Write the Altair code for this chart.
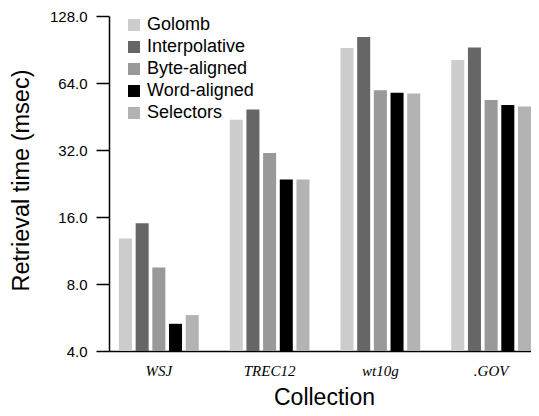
import altair as alt
import pandas as pd

collections = ["WSJ", "TREC12", "wt10g", ".GOV"]
methods = ["Golomb", "Interpolative", "Byte-aligned", "Word-aligned", "Selectors"]
colors = ["#cccccc", "#666666", "#999999", "#000000", "#b3b3b3"]
golomb = [12.8, 43.8, 91.9, 81.2]
interpolative = [15.0, 48.6, 103.0, 92.3]
byte_aligned = [9.5, 31.0, 59.3, 53.7]
word_aligned = [5.3, 23.6, 57.9, 51.0]
selectors = [5.8, 23.6, 57.4, 50.2]
y_ticks = [4, 8, 16, 32, 64, 128]

series = [golomb, interpolative, byte_aligned, word_aligned, selectors]
rows = []
for m, vals in zip(methods, series):
    for c, v in zip(collections, vals):
        rows.append({"Collection": c, "Method": m, "Time": v})
df = pd.DataFrame(rows)

chart = alt.Chart(df).mark_bar().encode(
    x=alt.X("Collection:N", sort=collections,
            scale=alt.Scale(paddingInner=0.28, paddingOuter=0.045, align=1),
            axis=alt.Axis(title="Collection", ticks=False, tickSize=0, labelAngle=0,
                          labelFont="Liberation Serif", labelFontStyle="italic",
                          labelFontSize=15, labelColor="black", labelPadding=24,
                          labelBaseline="alphabetic",
                          domainColor="black", domainWidth=1.5,
                          titleFont="Liberation Sans", titleFontSize=23,
                          titleFontWeight="normal", titleColor="black",
                          titleX=215, titleY=53, titleBaseline="alphabetic",
                          titleAlign="center")),
    xOffset=alt.XOffset("Method:N", sort=methods,
                        scale=alt.Scale(paddingInner=0.22, paddingOuter=0)),
    y=alt.Y("Time:Q", stack=None,
            scale=alt.Scale(type="log", base=2, domain=[4, 128], nice=False),
            axis=alt.Axis(title="Retrieval time (msec)", values=y_ticks, format=".1f",
                          grid=False, tickSize=13, tickWidth=1.5, tickColor="black",
                          labelPadding=9, labelFont="Liberation Sans", labelFontSize=15,
                          labelColor="black",
                          domainColor="black", domainWidth=1.5,
                          titleFont="Liberation Sans", titleFontSize=23.5,
                          titleFontWeight="normal", titleColor="black",
                          titleX=-88, titleY=164, titleAngle=-90,
                          titleAlign="center", titleBaseline="middle")),
    color=alt.Color("Method:N", sort=methods,
                    scale=alt.Scale(domain=methods, range=colors),
                    legend=alt.Legend(title=None, orient="none", legendX=16, legendY=0,
                                      symbolType="square", symbolSize=144,
                                      symbolStrokeWidth=0, symbolOpacity=1,
                                      labelFont="Liberation Sans", labelFontSize=18,
                                      labelColor="black", labelOffset=4,
                                      rowPadding=4, padding=0)),
).properties(
    width=422, height=335,
    autosize=alt.AutoSizeParams(type="none"),
    padding={"left": 101, "top": 8, "right": 0, "bottom": 57},
).configure_view(stroke=None)

chart.save("out.html", embed_options={"renderer": "svg", "actions": False})
